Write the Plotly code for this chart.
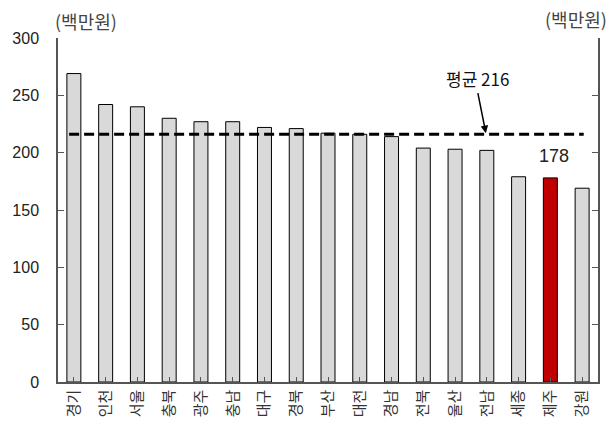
import plotly.graph_objects as go

regions = ["경기", "인천", "서울", "충북", "광주", "충남", "대구", "경북", "부산",
           "대전", "경남", "전북", "울산", "전남", "세종", "제주", "강원"]
values = [269, 242, 240, 230, 227, 227, 222, 221, 217, 216, 214, 204, 203, 202, 179, 178, 169]
highlight = "제주"
average = 216
unit_label = "(백만원)"
avg_label = "평균 216"

colors = ["#c00000" if r == highlight else "#d9d9d9" for r in regions]
idx = list(range(len(regions)))

KFONT = "Noto Sans CJK KR"
NFONT = "Liberation Sans"

fig = go.Figure()
fig.add_trace(go.Bar(
    x=idx, y=values,
    marker=dict(color=colors, line=dict(color="#000000", width=1)),
    width=0.44,
    showlegend=False,
))

# average dashed line
fig.add_shape(type="line", xref="x", yref="y",
              x0=-0.15, x1=16.05, y0=average, y1=average,
              line=dict(color="black", width=3, dash="10px,5px"))

# average annotation with arrow
hi = regions.index("전남")
fig.add_annotation(x=hi - 0.03, y=average + 1, xref="x", yref="y",
                   text=avg_label, showarrow=True, arrowhead=2, arrowsize=1,
                   arrowwidth=1.5, arrowcolor="black", ax=-8, ay=-40,
                   font=dict(family=KFONT, size=17, color="#111111"),
                   yanchor="bottom")

# highlighted value label
hj = regions.index(highlight)
fig.add_annotation(x=hj + 0.1, y=values[hj], xref="x", yref="y",
                   text=str(values[hj]), showarrow=False, yshift=10,
                   yanchor="bottom",
                   font=dict(family=NFONT, size=18, color="#222222"))

# unit labels
fig.add_annotation(x=-0.01, y=1.0, xref="paper", yref="paper", text=unit_label,
                   showarrow=False, xanchor="left", yanchor="bottom", yshift=2,
                   font=dict(family=KFONT, size=18, color="#444444"))
fig.add_annotation(x=1.02, y=1.0, xref="paper", yref="paper", text=unit_label,
                   showarrow=False, xanchor="right", yanchor="bottom", yshift=4,
                   font=dict(family=KFONT, size=18, color="#444444"))

fig.update_layout(
    width=612, height=437,
    margin=dict(l=57, r=12, t=38, b=55),
    paper_bgcolor="white", plot_bgcolor="white",
    bargap=0.5,
    xaxis=dict(
        tickmode="array", tickvals=idx, ticktext=regions,
        tickangle=-90, range=[-0.5, len(regions) - 0.5],
        showline=True, linecolor="#555555", linewidth=1.5,
        ticks="inside", tickson="boundaries", ticklen=5, tickcolor="#555555",
        showgrid=False, zeroline=False,
        tickfont=dict(family=KFONT, size=15, color="#333333"),
    ),
    yaxis=dict(
        range=[0, 300], tickvals=[0, 50, 100, 150, 200, 250, 300],
        showline=True, linecolor="#555555", linewidth=1.5, mirror="ticks",
        ticks="inside", ticklen=6, tickcolor="#555555",
        showgrid=False, zeroline=False,
        ticklabelstandoff=14,
        tickfont=dict(family=NFONT, size=16, color="#222222"),
    ),
)

fig.write_html("out.html")
